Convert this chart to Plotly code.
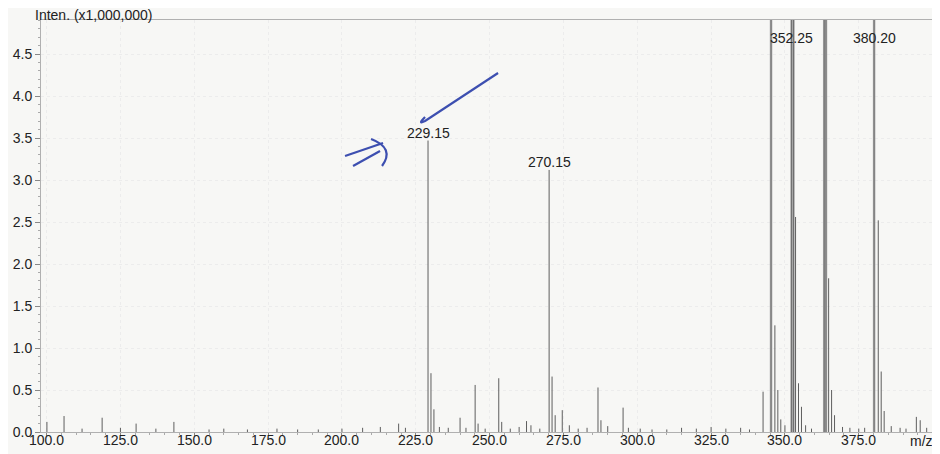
import plotly.graph_objects as go

# m/z and intensity (x1,000,000)
mz = [100.1, 105.9, 112.0, 118.8, 125.0, 130.3, 137.0, 143.1, 155.0, 160.0,
      168.0, 178.0, 185.0, 192.0, 200.0, 207.0, 213.0, 219.2, 221.5,
      229.15, 230.15, 231.15, 233.0, 236.0, 240.0, 242.0, 245.1, 246.1, 248.5,
      253.1, 254.1, 257.0, 260.0, 262.5, 264.0, 267.0,
      270.15, 271.15, 272.2, 274.6, 277.0, 280.0, 283.0, 286.7, 287.7, 290.0,
      295.2, 297.0, 301.0, 305.0, 310.0, 315.0, 320.0, 325.0, 330.0, 335.0,
      338.0, 342.6, 346.6, 347.6, 348.6, 350.0, 353.6, 354.6, 355.6, 357.0,
      359.0, 364.8, 365.8, 366.8, 369.5, 372.0, 375.0, 377.0, 381.6, 382.6,
      383.6, 386.0, 389.0, 391.0, 394.5, 395.8, 398.0]
inten = [0.12, 0.19, 0.04, 0.17, 0.05, 0.10, 0.04, 0.12, 0.03, 0.04,
         0.03, 0.04, 0.03, 0.03, 0.04, 0.05, 0.06, 0.10, 0.05,
         3.47, 0.70, 0.27, 0.06, 0.05, 0.17, 0.05, 0.56, 0.10, 0.04,
         0.64, 0.12, 0.04, 0.06, 0.13, 0.08, 0.04,
         3.12, 0.66, 0.20, 0.26, 0.08, 0.04, 0.05, 0.53, 0.14, 0.07,
         0.29, 0.05, 0.04, 0.03, 0.03, 0.05, 0.04, 0.06, 0.04, 0.05,
         0.03, 0.48, 1.27, 0.50, 0.15, 0.08, 2.56, 0.58, 0.30, 0.08,
         0.04, 1.83, 0.50, 0.20, 0.06, 0.05, 0.04, 0.05, 2.52, 0.72,
         0.25, 0.07, 0.05, 0.04, 0.18, 0.14, 0.05]

# saturated peaks (run off the top of the chart)
tall_mz = [345.3, 352.25, 352.9, 363.3, 363.9, 380.2]
tall_inten = [6.2, 8.0, 7.5, 7.4, 7.0, 5.9]

label_mz = [229.15, 270.15, 352.25, 380.20]
label_inten = [3.47, 3.12, 4.905, 4.905]
label_text = ["229.15", "270.15", "352.25", "380.20"]

y_ticks = [0.0, 0.5, 1.0, 1.5, 2.0, 2.5, 3.0, 3.5, 4.0, 4.5]
x_ticks = [100, 125, 150, 175, 200, 225, 250, 275, 300, 325, 350, 375]


def sticks(xs, ys):
    sx, sy = [], []
    for x, y in zip(xs, ys):
        sx += [x, x, None]
        sy += [0, y, None]
    return sx, sy


fig = go.Figure()

tx, ty = sticks(tall_mz, tall_inten)
fig.add_trace(go.Scatter(x=tx, y=ty, mode="lines",
                         line=dict(color="#a8a8a8", width=2.5), hoverinfo="skip"))
fig.add_trace(go.Scatter(x=tx, y=ty, mode="lines",
                         line=dict(color="#606060", width=0.8), hoverinfo="skip"))
sx, sy = sticks(mz, inten)
fig.add_trace(go.Scatter(x=sx, y=sy, mode="lines",
                         line=dict(color="#5e5e5e", width=1), hoverinfo="skip"))

font = dict(family="Liberation Sans, Arial, sans-serif", size=14, color="#222222")

for x, y, t in zip(label_mz, label_inten, label_text):
    fig.add_annotation(x=x, y=y, text=t, showarrow=False, yanchor="bottom",
                       yshift=-2 if y < 4.8 else -28, font=font)

fig.add_annotation(xref="paper", yref="paper", x=-0.009, y=1.0, xanchor="left",
                   yanchor="middle", yshift=5, text="Inten. (x1,000,000)",
                   showarrow=False, font=font)
fig.add_annotation(xref="paper", yref="paper", x=1.0, y=0, xanchor="right",
                   yanchor="top", xshift=3, yshift=1, text="m/z", showarrow=False,
                   font=font)

# x tick labels sit very close to the axis in the original print
for v in x_ticks:
    fig.add_annotation(x=v, y=0, yref="y", text=f"{v:.1f}", showarrow=False,
                       yanchor="top", yshift=2, font=font)


# hand-drawn pen marks (check mark and double arrow), image px -> data
def px(x, y):
    return 100 + (x - 46.6) / 2.953, (432 - y) / 84


def path(pts, cmd):
    out = []
    for c, (x, y) in zip(cmd, pts):
        dx, dy = px(x, y)
        out.append(f"{c}{dx:.3f},{dy:.4f}")
    return " ".join(out)


pen = dict(color="#3d4fb0", width=2.2)
fig.add_shape(type="path", line=pen,
              path=path([(425, 117), (417, 125), (425, 121), (498, 73)], "MQ L"))
fig.add_shape(type="path", line=pen,
              path=path([(345, 156), (383, 143)], "ML"))
fig.add_shape(type="path", line=pen,
              path=path([(353, 166), (380, 151)], "ML"))
fig.add_shape(type="path", line=pen,
              path=path([(371, 139), (395, 148), (382, 166)], "MQ "))

# the page body adds an 8px margin, so the figure is 8px smaller each way
fig.update_layout(
    width=932, height=446,
    margin=dict(l=33, r=8, t=12, b=22),
    paper_bgcolor="#f7f7f5", plot_bgcolor="#f7f7f5",
    showlegend=False, font=font,
    xaxis=dict(range=[98.1, 399.8], tickvals=x_ticks, showticklabels=False,
               showgrid=True, gridcolor="#ececec", griddash="dot",
               showline=True, linecolor="#b0b0b0", mirror=True,
               ticks="outside", ticklen=3, tickcolor="#888888",
               minor=dict(dtick=5, ticks="outside", ticklen=2, tickcolor="#aaaaaa"),
               zeroline=False, fixedrange=True, automargin=False),
    yaxis=dict(range=[0, 4.905], tickvals=y_ticks,
               ticktext=[f"{v:.1f}" for v in y_ticks],
               showgrid=True, gridcolor="#ececec", griddash="dot",
               showline=True, linecolor="#b0b0b0", mirror=True,
               ticks="outside", ticklen=5, tickcolor="#888888",
               minor=dict(dtick=0.1, ticks="outside", ticklen=2, tickcolor="#aaaaaa"),
               zeroline=False, fixedrange=True, automargin=False),
)

fig.write_html("out.html")
